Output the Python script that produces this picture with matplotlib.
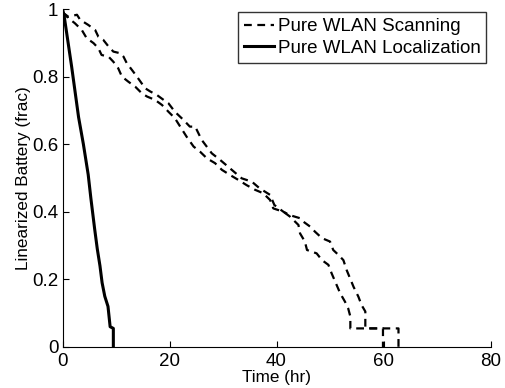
import numpy as np
import matplotlib
matplotlib.use('Agg')
import matplotlib.pyplot as plt

plt.rcParams['font.family'] = ['Liberation Sans', 'DejaVu Sans']

# battery traces (hours, fraction)
scan1_t = [0, 1.1, 2.7, 3.3, 4.8, 6.1, 6.7, 7.6, 8.6, 9.5, 10.8, 11.4, 12.0, 13.2, 13.9,
           14.8, 15.4, 16.4, 17.6, 18.9, 19.8, 21.0, 22.6, 23.8, 24.8, 26.0, 27.9, 29.5,
           31.2, 33.5, 35.4, 36.8, 38.8, 39.6, 41.3, 42.5, 44.4, 45.0, 46.3, 47.2, 48.5,
           50.0, 50.6, 51.6, 52.5, 53.1, 54.4, 55.3, 55.9, 56.6, 56.6, 62.8, 62.8]
scan1_b = [0.99, 0.977, 0.983, 0.968, 0.953, 0.938, 0.918, 0.909, 0.889, 0.874, 0.869,
           0.859, 0.840, 0.815, 0.80, 0.78, 0.766, 0.756, 0.746, 0.731, 0.721, 0.696,
           0.672, 0.652, 0.652, 0.613, 0.573, 0.553, 0.53, 0.499, 0.489, 0.47, 0.45,
           0.42, 0.40, 0.39, 0.381, 0.371, 0.356, 0.341, 0.322, 0.312, 0.287, 0.272,
           0.257, 0.228, 0.178, 0.149, 0.124, 0.105, 0.055, 0.055, 0]

scan2_t = [0, 1.1, 2.3, 3.6, 4.5, 5.8, 6.7, 7.3, 8.6, 9.5, 10.4, 11.1, 12.3, 13.6, 14.8,
           15.8, 17.3, 18.6, 19.8, 21.0, 22.0, 23.2, 24.5, 25.7, 27.0, 28.5, 29.8, 31.3,
           32.9, 34.4, 36.0, 37.5, 38.8, 39.4, 41.3, 42.5, 44.1, 44.4, 45.3, 45.7, 47.5,
           48.5, 49.7, 50.3, 51.9, 52.8, 53.4, 53.8, 53.8, 59.9, 59.9]
scan2_b = [0.99, 0.973, 0.958, 0.938, 0.914, 0.899, 0.884, 0.864, 0.859, 0.844, 0.825,
           0.80, 0.785, 0.770, 0.751, 0.741, 0.731, 0.716, 0.696, 0.677, 0.652, 0.622,
           0.593, 0.578, 0.558, 0.544, 0.524, 0.509, 0.494, 0.479, 0.465, 0.455, 0.435,
           0.41, 0.40, 0.386, 0.361, 0.336, 0.312, 0.287, 0.277, 0.257, 0.243, 0.218,
           0.159, 0.134, 0.114, 0.09, 0.055, 0.055, 0]

loc_t = [0, 0.3, 1.7, 3.0, 3.9, 4.8, 5.3, 6.0, 6.5, 7.0, 7.4, 7.9, 8.5, 8.9, 9.5, 9.5]
loc_b = [1, 0.98, 0.83, 0.68, 0.60, 0.51, 0.44, 0.35, 0.29, 0.24, 0.19, 0.15, 0.12,
         0.06, 0.055, 0]

xticks = [0, 20, 40, 60, 80]
yticks = [0, 0.2, 0.4, 0.6, 0.8, 1]
ytick_labels = ['0', '0.2', '0.4', '0.6', '0.8', '1']

fig = plt.figure(figsize=(5.05, 3.88), dpi=100)
ax = fig.add_axes([0.1238, 0.1057, 0.8475, 0.8711])

ax.plot(scan1_t, scan1_b, color='k', lw=1.6, linestyle='--', dashes=(3.5, 2.5),
        label='Pure WLAN Scanning')
ax.plot(scan2_t, scan2_b, color='k', lw=1.6, linestyle='--', dashes=(3.5, 2.5))
ax.plot(loc_t, loc_b, color='k', lw=2.2, label='Pure WLAN Localization')

ax.set_xlim(0, 80)
ax.set_ylim(0, 1)
ax.set_xticks(xticks)
ax.set_yticks(yticks)
ax.set_yticklabels(ytick_labels)
ax.tick_params(direction='in', length=4, labelsize=13.5)
ax.tick_params(axis='x', pad=4)
ax.tick_params(axis='y', pad=3)
ax.spines['top'].set_visible(False)
ax.spines['right'].set_visible(False)
ax.set_xlabel('Time (hr)', fontsize=12.3, labelpad=0.5)
ax.set_ylabel('Linearized Battery (frac)', fontsize=12.3, labelpad=1)

leg = ax.legend(loc='upper right', bbox_to_anchor=(0.99, 0.99), borderaxespad=0,
                fontsize=13.5, frameon=True, fancybox=False, handlelength=1.6,
                handletextpad=0.2, borderpad=0.3, labelspacing=0.25)
leg.get_frame().set_edgecolor('k')
leg.get_frame().set_linewidth(1.0)

plt.savefig('out.png', dpi=100)
